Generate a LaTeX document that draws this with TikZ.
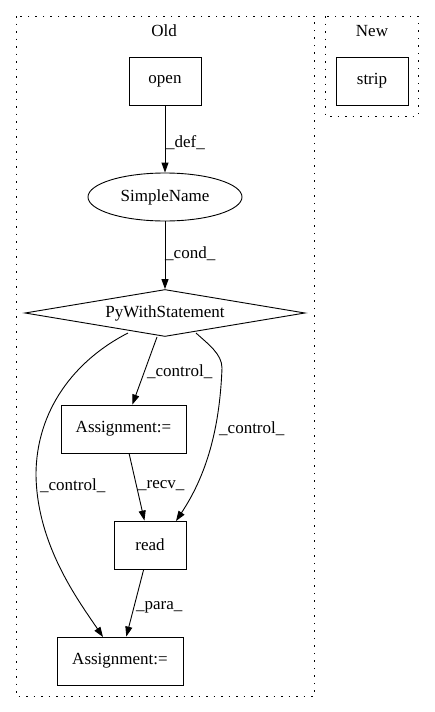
\documentclass[tikz,border=0pt]{standalone}
\usepackage{fontspec}
\setmainfont{Liberation Serif}
\usetikzlibrary{shapes.geometric,arrows.meta}
\begin{document}
\begin{tikzpicture}[x=1pt,y=-1pt,
  every node/.style={font=\fontsize{17}{19}\selectfont},
  box/.style={draw,line width=0.9pt,rectangle,minimum height=48pt,inner sep=0pt},
  cluster/.style={draw,line width=0.9pt,dash pattern=on 1.5pt off 6pt},
  edge/.style={draw,line width=0.9pt,-{Triangle[length=10pt,width=7pt]}},
  lab/.style={anchor=west,inner sep=0pt}]
\useasboundingbox[fill=white] (0,0) rectangle (435,712);
% clusters
\draw[cluster] (16,16) rectangle (314,696);
\draw[cluster] (325,16) rectangle (418,116);
\node (told) at (164,31) {Old};
\node (tnew) at (372,31) {New};
% nodes
\node[box,minimum width=72pt] (open) at (165,81) {open};
\node[box,minimum width=72pt] (strip) at (372,81) {strip};
\node[draw,line width=0.9pt,ellipse,minimum width=154pt,minimum height=48pt,inner sep=0pt] (sn) at (165,197) {SimpleName};
\node[draw,line width=0.9pt,diamond,aspect=5.96,minimum width=280pt,minimum height=47pt,inner sep=0pt] (pws) at (165,313) {PyWithStatement};
\node[box,minimum width=125pt] (a1) at (123.5,429) {Assignment:=};
\node[box,minimum width=72pt] (read) at (150,545) {read};
\node[box,minimum width=126pt] (a2) at (120,661) {Assignment:=};
% edge end points on node borders
\coordinate (p1) at (157,337);
\coordinate (p2) at (196,333);
\coordinate (p3) at (128,333);
\coordinate (rin) at (176,521);
\coordinate (a2in) at (103,637);
% edges
\draw[edge] (open) -- (sn);
\draw[edge] (sn) -- (pws);
\draw[edge] (p1) -- (a1);
\draw[edge] (p2) .. controls (208,344) and (222,354) .. (222,368) .. controls (220,420) and (210,470) .. (rin);
\draw[edge] (a1) -- (read);
\draw[edge] (p3) .. controls (75,360) and (36,410) .. (36,475) .. controls (37,545) and (78,600) .. (a2in);
\draw[edge] (read) -- (a2);
% labels
\node[lab] (ldef) at (166,143) {\_def\_};
\node[lab] (lcond) at (165,254) {\_cond\_};
\node[lab] (lc1) at (147,372) {\_control\_};
\node[lab] (lc2) at (219,429) {\_control\_};
\node[lab] (lc3) at (40,486) {\_control\_};
\node[lab] (lrecv) at (138,486) {\_recv\_};
\node[lab] (lpara) at (136,607) {\_para\_};
\end{tikzpicture}
\end{document}
